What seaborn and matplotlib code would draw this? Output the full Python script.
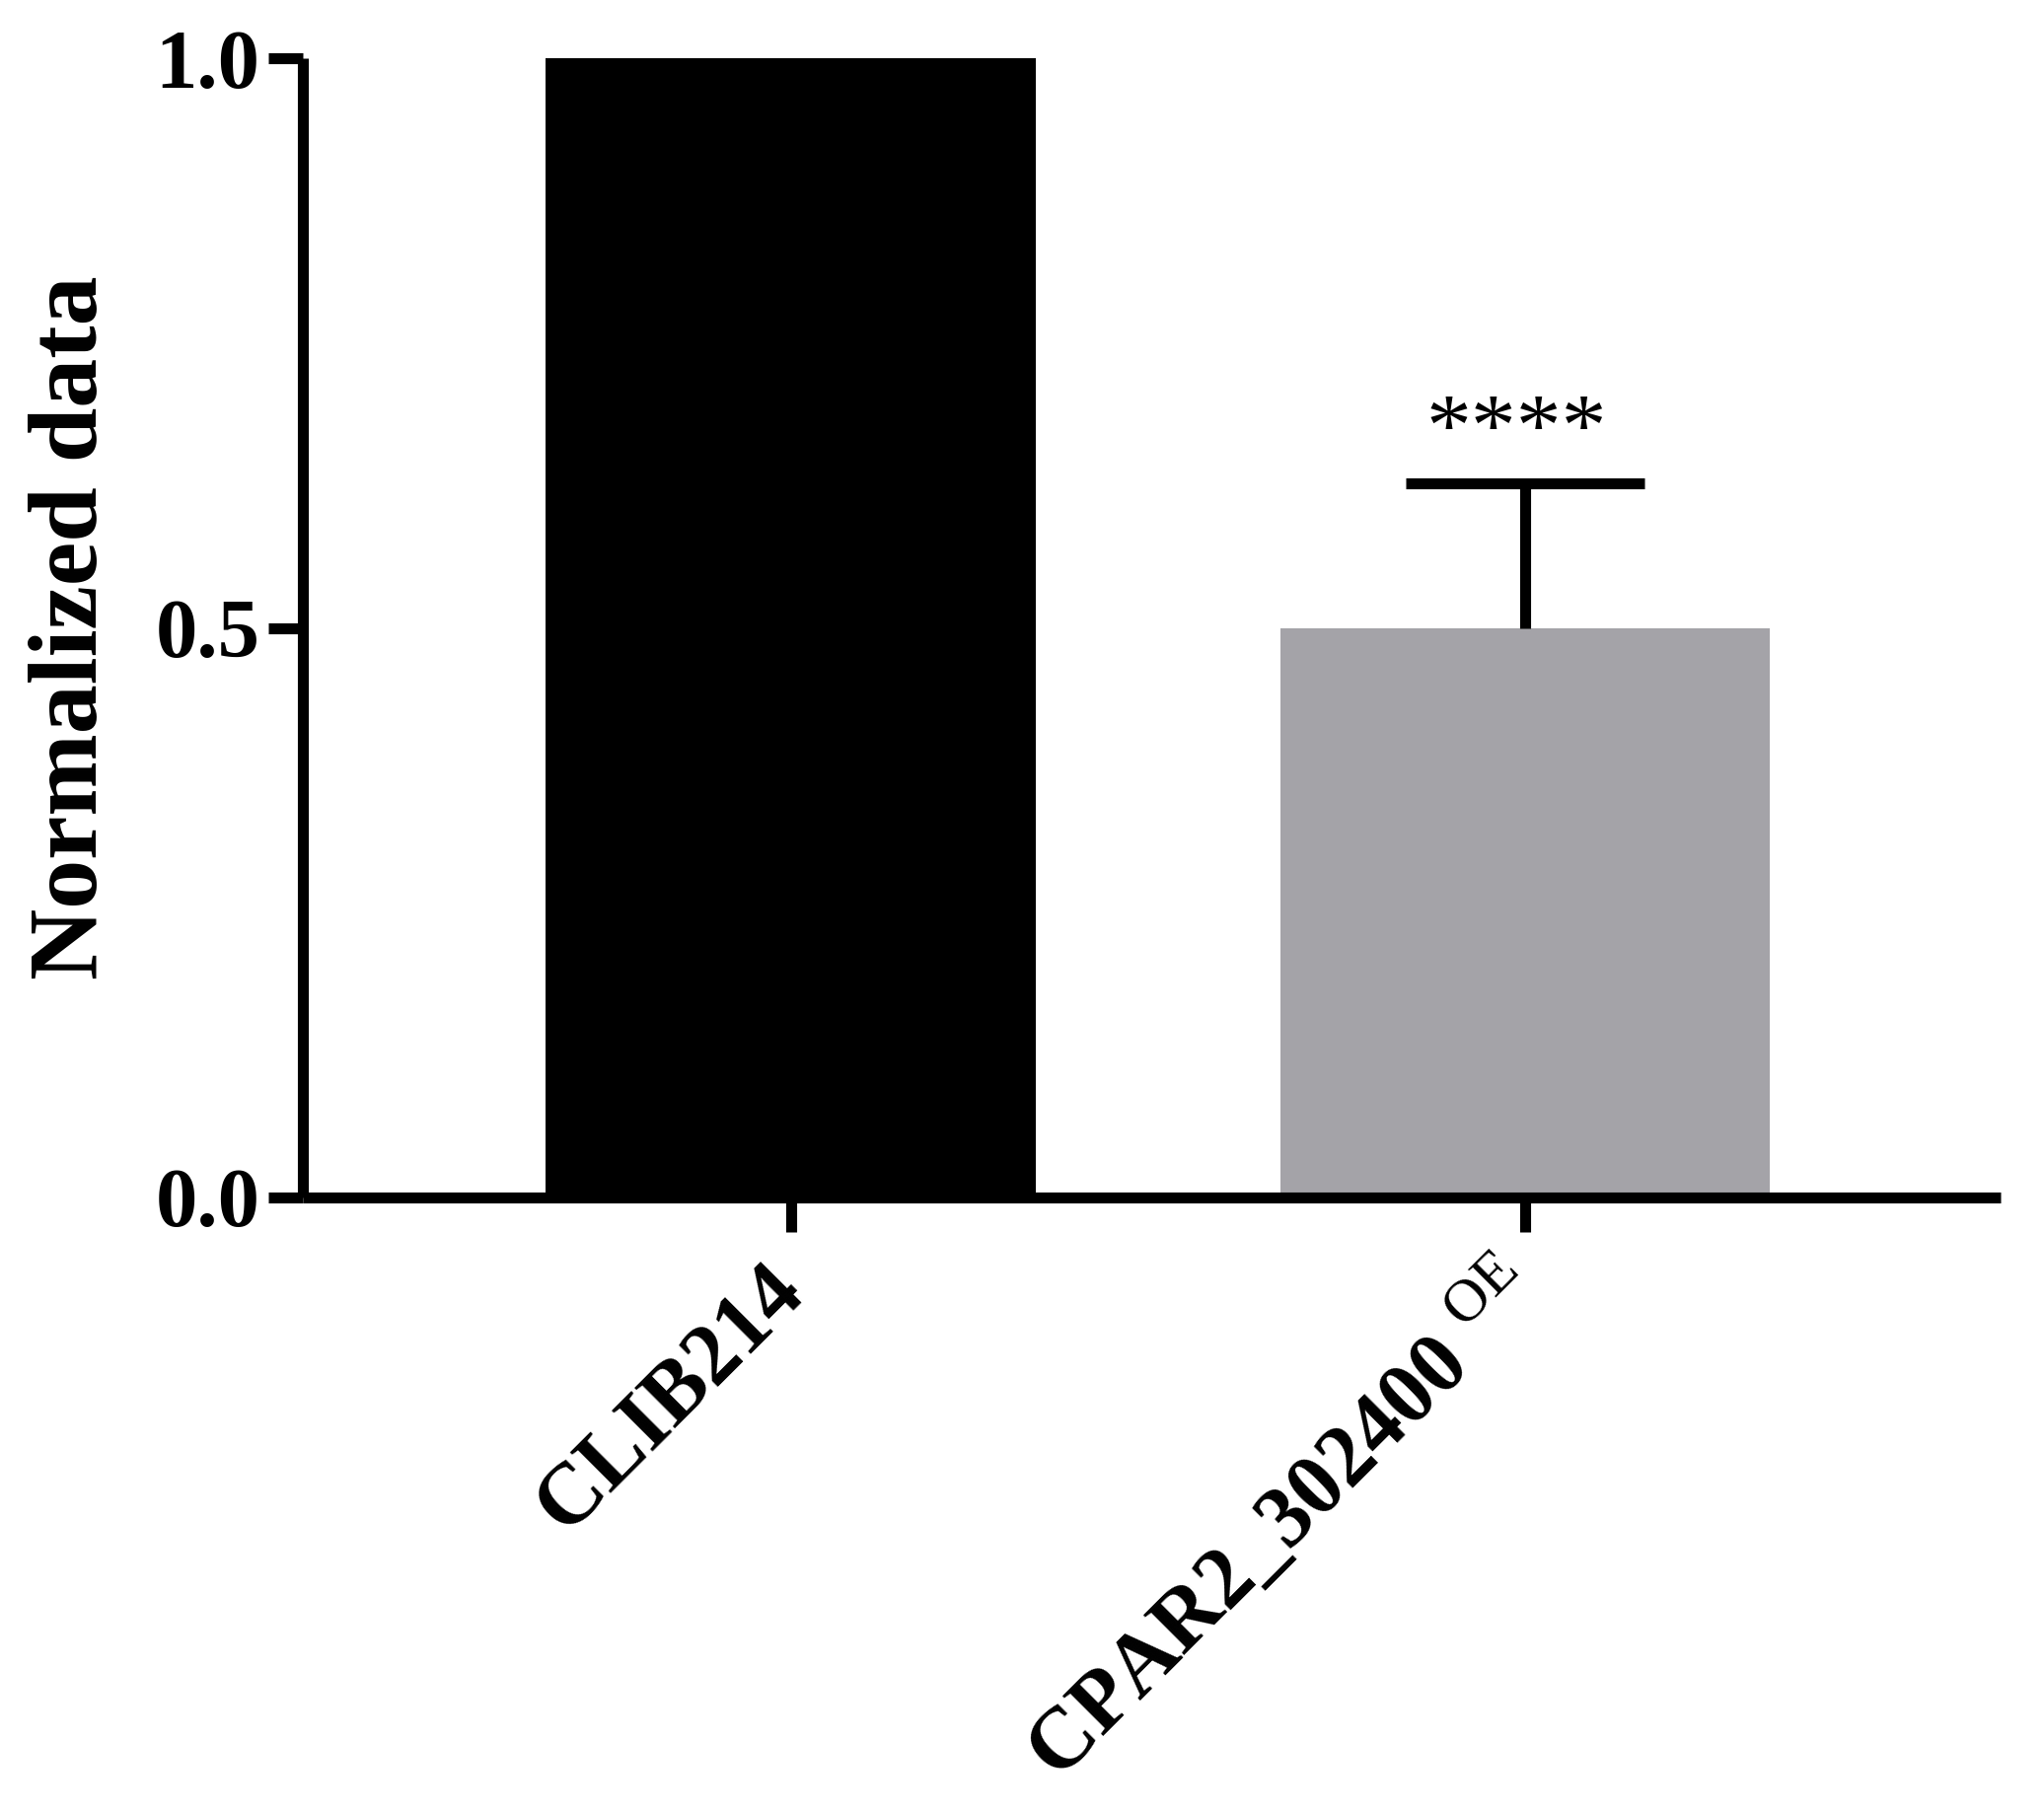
import matplotlib
matplotlib.use("Agg")
import matplotlib.pyplot as plt
import seaborn as sns
import numpy as np
import pandas as pd

# ---- data ----
categories = ["CLIB214", "CPAR2_302400"]
tick_labels = ["CLIB214", "CPAR2_302400 $^{\\mathrm{OE}}$"]
means = [1.0, 0.50]
sd_upper = [0.0, 0.127]
significance = ["", "****"]
bar_colors = ["#000000", "#a4a3a8"]

sns.set_theme(style="white")
plt.rcParams["font.family"] = ["Liberation Serif", "DejaVu Serif"]
plt.rcParams["mathtext.fontset"] = "custom"
plt.rcParams["mathtext.rm"] = "Liberation Serif"
plt.rcParams["text.color"] = "black"
plt.rcParams["axes.labelcolor"] = "black"
plt.rcParams["xtick.color"] = "black"
plt.rcParams["ytick.color"] = "black"

fig = plt.figure(figsize=(20.72, 18.36), dpi=100)
ax = fig.add_axes([0.148, 1 - 1214 / 1836, 0.979 - 0.148, (1214 - 59) / 1836])

df = pd.DataFrame({"cat": categories, "val": means})
sns.barplot(data=df, x="cat", y="val", hue="cat", palette=bar_colors,
            width=0.667, saturation=1, legend=False, ax=ax, linewidth=0)

x = np.arange(len(categories))
lw = 8
for i, (m, s) in enumerate(zip(means, sd_upper)):
    if s > 0:
        _, caps, _ = ax.errorbar(x[i], m, yerr=[[0], [s]], fmt="none",
                                 ecolor="black", elinewidth=lw,
                                 capsize=87, capthick=lw, zorder=3)
        caps[0].set_visible(False)
    if significance[i]:
        ax.text(x[i] - 0.012, m + s + 0.008, significance[i], ha="center",
                va="bottom", fontsize=66, color="black",
                fontfamily="Liberation Serif")

ax.set_xlim(-0.665, 1.648)
ax.set_ylim(0, 1.0)
ax.set_yticks([0.0, 0.5, 1.0])
ax.set_yticklabels(["0.0", "0.5", "1.0"], fontsize=61, fontweight="bold",
                   color="black")
ax.set_xticks(x)
ax.set_xticklabels(tick_labels, fontsize=63, fontweight="bold",
                   rotation=45, ha="right", va="center",
                   rotation_mode="anchor", color="black")

for side in ["top", "right"]:
    ax.spines[side].set_visible(False)
for side in ["left", "bottom"]:
    ax.spines[side].set_linewidth(lw)
    ax.spines[side].set_color("black")
    ax.spines[side].set_capstyle("butt")

ax.tick_params(axis="both", which="major", direction="out", length=25,
               width=lw, color="black", left=True, bottom=True)
ax.tick_params(axis="y", pad=6)
ax.tick_params(axis="x", pad=34)

ax.set_xlabel("")
ax.set_ylabel("Normalized data", fontsize=72, fontweight="bold",
              color="black")
ax.yaxis.set_label_coords(-0.109, 0.5)

fig.savefig("out.png", dpi=100)
